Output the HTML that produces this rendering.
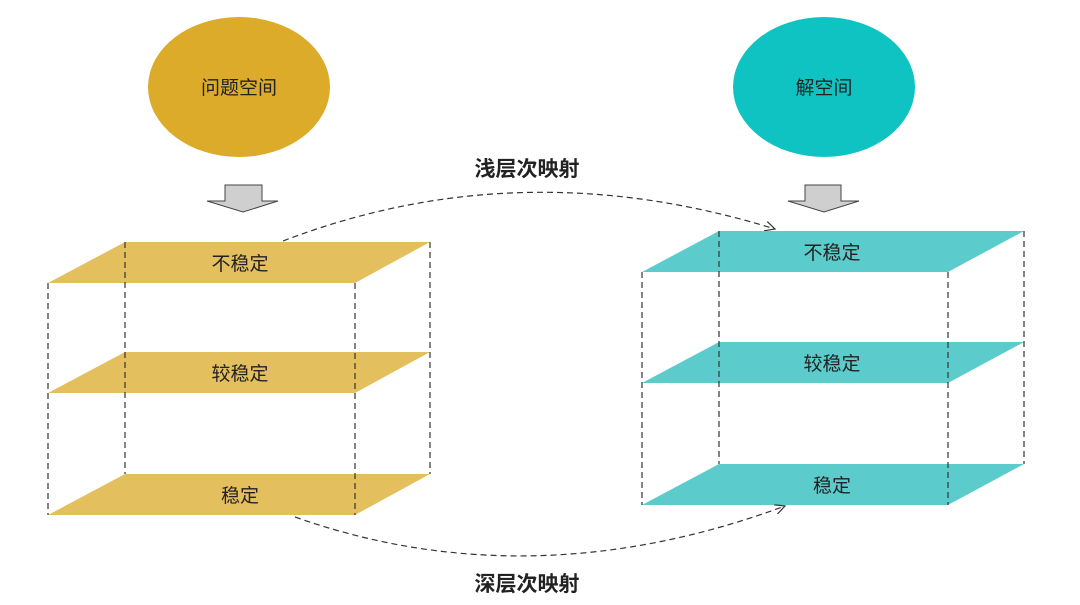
<!DOCTYPE html>
<html><head><meta charset="utf-8"><style>
html,body{margin:0;padding:0;background:#fff;}
svg{display:block;}
text{font-family:"Liberation Sans","Noto Sans CJK SC",sans-serif;}
</style></head><body>
<svg width="1080" height="605" viewBox="0 0 1080 605" xmlns="http://www.w3.org/2000/svg">
<defs><marker id="ah" markerWidth="12" markerHeight="10" refX="10" refY="5" orient="auto" markerUnits="userSpaceOnUse"><path d="M0,0 L10,5 L0,10" fill="none" stroke="#333" stroke-width="1.2"/></marker></defs>
<ellipse cx="239" cy="87" rx="91" ry="70" fill="#dcab29"/>
<text x="239" y="94" font-size="19" text-anchor="middle" fill="#222">问题空间</text>
<ellipse cx="824" cy="87" rx="91" ry="70" fill="#0fc3c3"/>
<text x="824" y="94" font-size="19" text-anchor="middle" fill="#222">解空间</text>
<polygon points="225,185 262,185 262,201 278,201 243,212 207,201 225,201" fill="#cfcfcf" stroke="#444" stroke-width="1"/>
<polygon points="805,185 841,185 841,201 859,201 824,212 788,201 805,201" fill="#cfcfcf" stroke="#444" stroke-width="1"/>
<g fill="#e4bf5e">
<polygon points="125,242 430,242 355,283 48,283"/>
<polygon points="125,352 430,352 355,393 48,393"/>
<polygon points="125,474 430,474 355,515 48,515"/>
</g>
<g fill="#5ccbcb">
<polygon points="719,231 1024,231 948,272 642,272"/>
<polygon points="719,342 1024,342 948,383 642,383"/>
<polygon points="719,464 1024,464 948,505 642,505"/>
</g>
<g stroke="#333" stroke-width="1.2" stroke-dasharray="6,4" fill="none">
<line x1="48" y1="283" x2="48" y2="515"/><line x1="125" y1="242" x2="125" y2="474"/>
<line x1="355" y1="283" x2="355" y2="515"/><line x1="430" y1="242" x2="430" y2="474"/>
<line x1="642" y1="272" x2="642" y2="505"/><line x1="719" y1="231" x2="719" y2="464"/>
<line x1="948" y1="272" x2="948" y2="505"/><line x1="1024" y1="231" x2="1024" y2="464"/>
<path d="M283,241 Q520,150 775,229" marker-end="url(#ah)"/>
<path d="M295,517 Q530,600 785,506" marker-end="url(#ah)"/>
</g>
<g font-size="19" text-anchor="middle" fill="#222">
<text x="240" y="270">不稳定</text><text x="240" y="380">较稳定</text><text x="240" y="502">稳定</text>
<text x="832" y="259">不稳定</text><text x="832" y="370">较稳定</text><text x="832" y="492">稳定</text>
</g>
<g font-size="21" font-weight="bold" text-anchor="middle" fill="#222">
<text x="527" y="176">浅层次映射</text><text x="527" y="591">深层次映射</text>
</g>
</svg>
</body></html>
